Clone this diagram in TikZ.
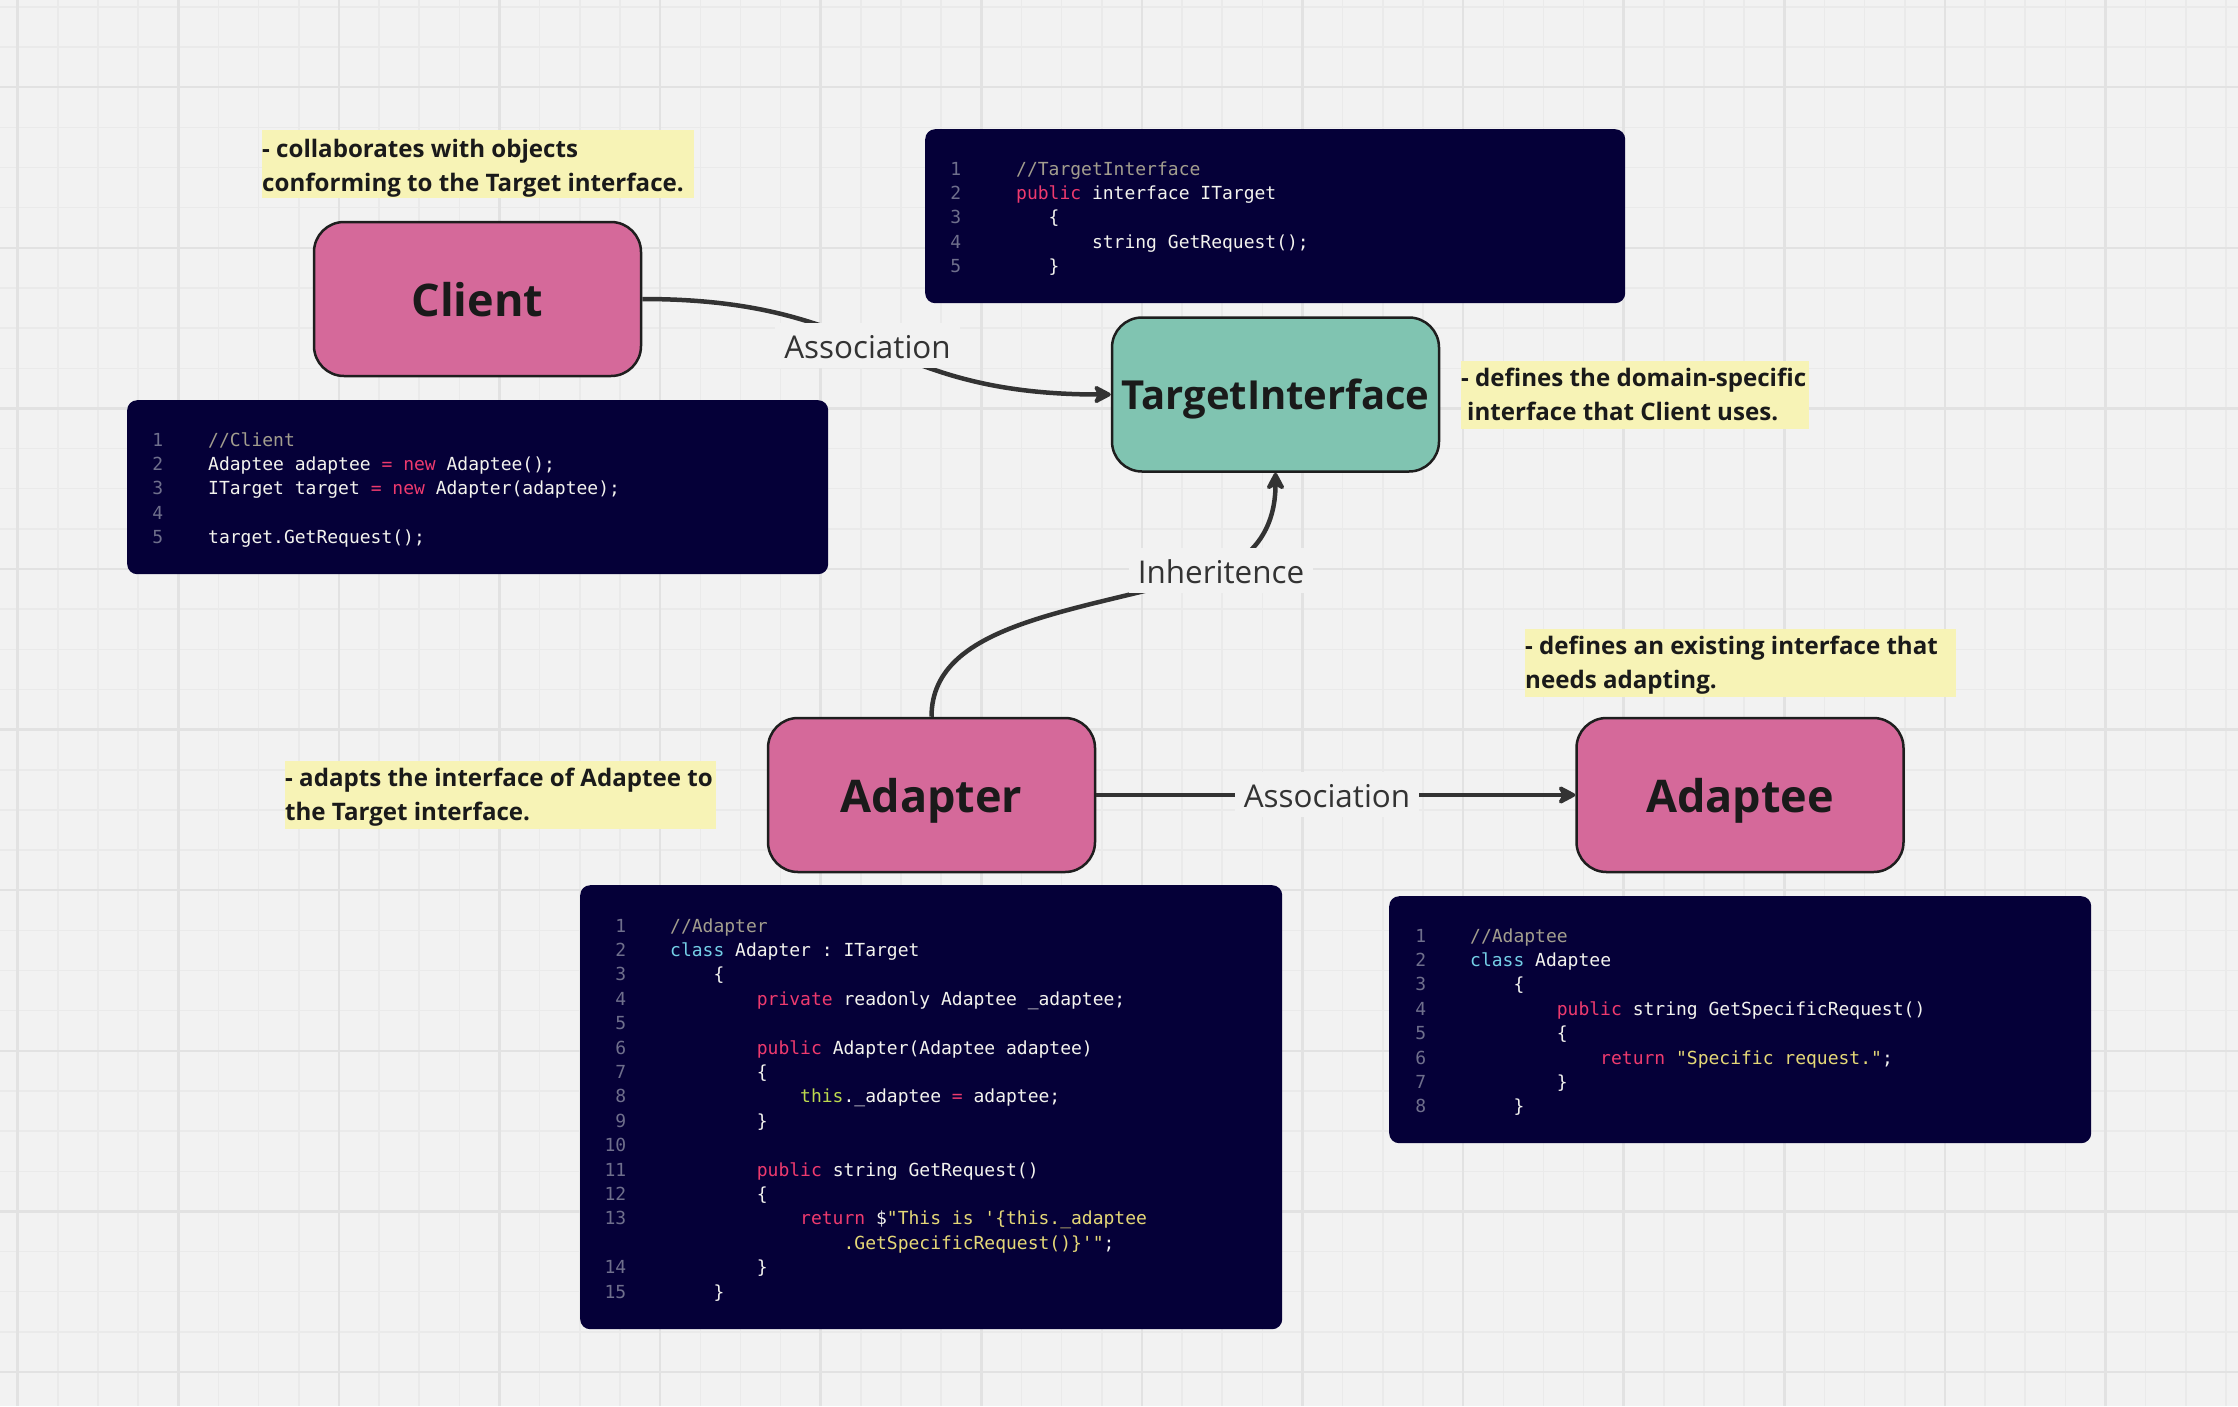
\documentclass[tikz,border=0pt]{standalone}
\usepackage{fontspec}
\setmainfont{Open Sans}
\setmonofont{DejaVu Sans Mono}
\usetikzlibrary{arrows.meta}

\definecolor{bg}{HTML}{F2F2F2}
\definecolor{gridminorc}{HTML}{EAEAEA}
\definecolor{gridmajorc}{HTML}{E2E2E2}
\definecolor{pinkbox}{HTML}{D5699A}
\definecolor{tealbox}{HTML}{80C4B1}
\definecolor{boxline}{HTML}{1E1E1E}
\definecolor{notefill}{HTML}{F7F3B6}
\definecolor{inktext}{HTML}{1A1A1A}
\definecolor{wirec}{HTML}{333333}
\definecolor{codebg}{HTML}{050038}
\definecolor{codefg}{HTML}{F3F3EE}
\definecolor{codenum}{HTML}{6F6F8C}
\definecolor{codecom}{HTML}{A39E8E}
\definecolor{codekw}{HTML}{EE3A6E}
\definecolor{codecls}{HTML}{74CFE6}
\definecolor{codethis}{HTML}{BCD94E}
\definecolor{codestr}{HTML}{E5D877}

% syntax colouring helpers
\newcommand\kw[1]{\textcolor{codekw}{#1}}
\newcommand\cmt[1]{\textcolor{codecom}{#1}}
\newcommand\cls[1]{\textcolor{codecls}{#1}}
\newcommand\thiskw[1]{\textcolor{codethis}{#1}}
\newcommand\strg[1]{\textcolor{codestr}{#1}}
% one indentation step = one monospaced character
\newdimen\cw \cw=10.836pt
\newcommand\ind[1]{\hspace*{#1\cw}}
% line number column
\newdimen\numw \newdimen\numgap
\newcommand\cn[1]{\makebox[\numw][r]{\textcolor{codenum}{#1}}\hspace*{\numgap}}

\begin{document}
\begin{tikzpicture}[x=1pt,y=-1pt,
  gridminor/.style={draw=gridminorc, line width=1.5pt},
  gridmajor/.style={draw=gridmajorc, line width=2.5pt},
  classbox/.style={draw=boxline, line width=2.5pt, rounded corners=30pt,
    minimum width=327pt, minimum height=154pt, inner sep=0pt, text=inktext,
    font=\bfseries\fontsize{45}{54}\selectfont, text depth=0pt},
  notebg/.style={fill=notefill, inner sep=0pt, anchor=north west},
  notetext/.style={inner sep=0pt, anchor=base west, text=inktext,
    font=\bfseries\fontsize{24.1}{34}\selectfont},
  codeblock/.style={fill=codebg, rounded corners=10pt, inner sep=0pt, anchor=north west},
  codetext/.style={inner sep=0pt, anchor=base west, text=codefg,
    font=\ttfamily\fontsize{18}{24.4}\selectfont},
  wire/.style={draw=wirec, line width=4.5pt,
    -{Stealth[length=21pt,width=22pt,inset=6pt,round]}},
  wirelabel/.style={fill=bg, text=wirec, font=\fontsize{31.4}{37}\selectfont,
    inner xsep=9pt, inner ysep=4pt, text height=31pt, text depth=6pt, anchor=base}
]

% canvas and grid
\fill[bg] (0,0) rectangle (2238,1406);
\useasboundingbox (0,0) rectangle (2238,1406);
\foreach \i in {0,...,55} \draw[gridminor] ({17.7+40.15*\i},0) -- ({17.7+40.15*\i},1406);
\foreach \i in {0,...,34} \draw[gridminor] (0,{6.9+40.15*\i}) -- (2238,{6.9+40.15*\i});
\foreach \k in {0,...,13} \draw[gridmajor] ({17.7+160.6*\k},0) -- ({17.7+160.6*\k},1406);
\foreach \k in {0,...,8} \draw[gridmajor] (0,{87.2+160.6*\k}) -- (2238,{87.2+160.6*\k});

% sticky notes
\node[notebg, minimum width=432pt, minimum height=68pt] (clientnote) at (262,130) {};
\node[notetext] (clientnotetxt) at (262,157) {\begin{tabular}[t]{@{}l@{}}
  - collaborates with objects\\ conforming to the Target interface.\end{tabular}};

\node[notebg, minimum width=348pt, minimum height=68pt] (targetnote) at (1461,361) {};
\node[notetext] (targetnotetxt) at (1461,386) {\begin{tabular}[t]{@{}l@{}}
  - defines the domain-specific\\ \hspace*{6pt}interface that Client uses.\end{tabular}};

\node[notebg, minimum width=431pt, minimum height=68pt] (adapternote) at (285,761) {};
\node[notetext] (adapternotetxt) at (285,786) {\begin{tabular}[t]{@{}l@{}}
  - adapts the interface of Adaptee to\\ the Target interface.\end{tabular}};

\node[notebg, minimum width=431pt, minimum height=68pt] (adapteenote) at (1525,629) {};
\node[notetext] (adapteenotetxt) at (1525,654) {\begin{tabular}[t]{@{}l@{}}
  - defines an existing interface that\\ needs adapting.\end{tabular}};

% code listings
\node[codeblock, minimum width=701pt, minimum height=174pt] (clientcode) at (127,400) {};
\node[codetext] (clientcodetxt) at (127,446) {\numw=36pt \numgap=45pt
  \begin{tabular}[t]{@{}l@{}}
  \cn{1}\cmt{//Client}\\
  \cn{2}Adaptee adaptee \kw{=} \kw{new} Adaptee();\\
  \cn{3}ITarget target \kw{=} \kw{new} Adapter(adaptee);\\
  \cn{4}\\
  \cn{5}target.GetRequest();
  \end{tabular}};

\node[codeblock, minimum width=700pt, minimum height=174pt] (targetcode) at (925,129) {};
\node[codetext] (targetcodetxt) at (925,175) {\numw=36pt \numgap=55pt
  \begin{tabular}[t]{@{}l@{}}
  \cn{1}\cmt{//TargetInterface}\\
  \cn{2}\kw{public} interface ITarget\\
  \cn{3}\ind{3}\{\\
  \cn{4}\ind{7}string GetRequest();\\
  \cn{5}\ind{3}\}
  \end{tabular}};

\node[codeblock, minimum width=702pt, minimum height=444pt] (adaptercode) at (580,885) {};
\node[codetext] (adaptercodetxt) at (580,932) {\numw=46pt \numgap=44pt
  \begin{tabular}[t]{@{}l@{}}
  \cn{1}\cmt{//Adapter}\\
  \cn{2}\cls{class} Adapter : ITarget\\
  \cn{3}\ind{4}\{\\
  \cn{4}\ind{8}\kw{private} readonly Adaptee \_adaptee;\\
  \cn{5}\\
  \cn{6}\ind{8}\kw{public} Adapter(Adaptee adaptee)\\
  \cn{7}\ind{8}\{\\
  \cn{8}\ind{12}\thiskw{this}.\_adaptee \kw{=} adaptee;\\
  \cn{9}\ind{8}\}\\
  \cn{10}\\
  \cn{11}\ind{8}\kw{public} string GetRequest()\\
  \cn{12}\ind{8}\{\\
  \cn{13}\ind{12}\kw{return} \$\strg{"This is '\{this.\_adaptee}\\
  \cn{}\ind{16}\strg{.GetSpecificRequest()\}'"};\\
  \cn{14}\ind{8}\}\\
  \cn{15}\ind{4}\}
  \end{tabular}};

\node[codeblock, minimum width=702pt, minimum height=247pt] (adapteecode) at (1389,896) {};
\node[codetext] (adapteecodetxt) at (1389,942) {\numw=37pt \numgap=44pt
  \begin{tabular}[t]{@{}l@{}}
  \cn{1}\cmt{//Adaptee}\\
  \cn{2}\cls{class} Adaptee\\
  \cn{3}\ind{4}\{\\
  \cn{4}\ind{8}\kw{public} string GetSpecificRequest()\\
  \cn{5}\ind{8}\{\\
  \cn{6}\ind{12}\kw{return} \strg{"Specific request."};\\
  \cn{7}\ind{8}\}\\
  \cn{8}\ind{4}\}
  \end{tabular}};

% classes
\node[classbox, fill=pinkbox] (client) at (477.5,299) {Client};
\node[classbox, fill=tealbox, font=\bfseries\fontsize{40}{48}\selectfont] (target) at (1275.5,394.5) {TargetInterface};
\node[classbox, fill=pinkbox] (adapter) at (931.5,795) {Adapter};
\node[classbox, fill=pinkbox] (adaptee) at (1740,795) {Adaptee};

% relations
\coordinate (inhmid) at (1215,572);
\draw[wire] (client.east) .. controls (876,299) and (877,394.5) .. (target.west);
\draw[wire] (adapter.north) .. controls (931.5,620) and (1085,612) .. (inhmid)
  .. controls (1252,559) and (1275.5,530) .. (target.south);
\draw[wire] (adapter.east) -- (adaptee.west);

% relation labels
\node[wirelabel] (assoc1) at (867.5,358) {Association};
\node[wirelabel] (inherit) at (1221,583) {Inheritence};
\node[wirelabel] (assoc2) at (1327,807) {Association};

\end{tikzpicture}
\end{document}
